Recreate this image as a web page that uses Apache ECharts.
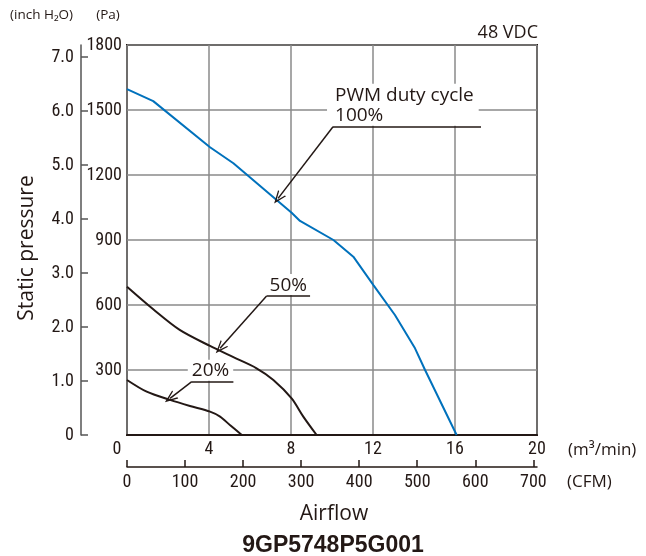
<!DOCTYPE html>
<html><head><meta charset="utf-8">
<script src="https://cdn.jsdelivr.net/npm/echarts@6/dist/echarts.min.js"></script>
<style>html,body{margin:0;padding:0;background:#fff}#c{width:646px;height:556px}</style>
</head><body><div id="c"></div>
<script>
// ---- data ----
const flowTicks = [0, 4, 8, 12, 16, 20];                 // m3/min
const paTicks = [0, 300, 600, 900, 1200, 1500, 1800];    // Pa
const inchTicks = [0, 1, 2, 3, 4, 5, 6, 7];              // inch H2O
const cfmTicks = [0, 100, 200, 300, 400, 500, 600, 700]; // CFM

const flow100 = [0, 1.28, 4.05, 5.19, 8.03, 8.44, 10.07, 11.04, 12.02, 13.07, 14.05, 14.54, 16.08];
const pres100 = [1596, 1541, 1328, 1254, 1026, 988, 900, 823, 692, 554, 400, 300, 0];
const flow50 = [0, 1.28, 2.57, 4.05, 5.19, 6.32, 7.14, 8.03, 8.6, 9.25];
const pres50 = [684, 580, 485, 411, 359, 308, 254, 169, 85, 0];
const flow20 = [0, 0.96, 2.1, 3.07, 4.05, 4.54, 5.02, 5.6];
const pres20 = [254, 200, 162, 134, 108, 85, 46, 0];

const PA_PER_INCH = 249.089;
const CFM_PER_M3MIN = 35.3147;

// ---- helpers ----
const pairs = (xs, ys) => xs.map((x, i) => [x, ys[i]]);
const INK = '#231815';
const GRIDC = '#8a8a8a';
const NUMFONT = '"Roboto Condensed", "Noto Sans Condensed", "Liberation Sans Narrow", "Arial Narrow", "DejaVu Sans Condensed", "Liberation Sans", sans-serif';
const NUMSIZE = 18;
const TXTFONT = '"Open Sans", "Liberation Sans", sans-serif';
const chevron = 'path://M5,0 L10,11 L8.6,11 L5,3.2 L1.4,11 L0,11 Z';

const chart = echarts.init(document.getElementById('c'), null, {renderer: 'canvas'});

const annotLabel = (txt, padding, offset) => ({
  show: true, position: [0, 0], align: 'left', verticalAlign: 'bottom',
  formatter: txt, color: INK, fontFamily: TXTFONT, fontSize: 19, lineHeight: 20,
  backgroundColor: '#fff', padding: padding, offset: offset
});

const option = {
  animation: false,
  backgroundColor: '#fff',
  grid: {left: 127, right: 109, top: 45, bottom: 121, show: true,
         borderColor: INK, borderWidth: 2, backgroundColor: '#fff'},
  xAxis: [
    {type: 'value', min: flowTicks[0], max: flowTicks[flowTicks.length - 1], interval: 4, position: 'bottom',
     axisLine: {show: true, onZero: false, lineStyle: {color: INK, width: 2}},
     axisTick: {show: false},
     axisLabel: {color: INK, fontFamily: NUMFONT, fontSize: NUMSIZE, margin: 5,
       formatter: v => v === 0 ? '{z|0}' : String(v),
       rich: {z: {padding: [0, 20, 0, 0], color: INK, fontFamily: NUMFONT, fontSize: NUMSIZE}}},
     splitLine: {show: true, lineStyle: {color: GRIDC, width: 1.5}}},
    {type: 'value', min: 0, max: flowTicks[flowTicks.length - 1] * CFM_PER_M3MIN, position: 'bottom', offset: 32,
     axisLine: {show: true, onZero: false, lineStyle: {color: INK, width: 1.5}},
     axisTick: {show: true, inside: true, length: 7, customValues: cfmTicks, lineStyle: {color: INK, width: 1.5}},
     axisLabel: {color: INK, fontFamily: NUMFONT, fontSize: NUMSIZE, margin: 6, customValues: cfmTicks},
     splitLine: {show: false}}
  ],
  yAxis: [
    {type: 'value', min: 0, max: paTicks[paTicks.length - 1], interval: 300, position: 'left',
     axisLine: {show: false, onZero: false}, axisTick: {show: false},
     axisLabel: {color: INK, fontFamily: NUMFONT, fontSize: NUMSIZE, margin: 5,
       formatter: v => v === 0 ? '' : String(v)},
     splitLine: {show: true, lineStyle: {color: GRIDC, width: 1.5}}},
    {type: 'value', min: 0, max: paTicks[paTicks.length - 1] / PA_PER_INCH, position: 'left', offset: 46,
     axisLine: {show: true, onZero: false, lineStyle: {color: '#555', width: 1.5}},
     axisTick: {show: true, inside: true, length: 7, customValues: inchTicks, lineStyle: {color: '#555', width: 1.5}},
     axisLabel: {color: INK, fontFamily: NUMFONT, fontSize: NUMSIZE, margin: 7, customValues: inchTicks,
       formatter: v => v === 0 ? '0' : v.toFixed(1)},
     splitLine: {show: false}}
  ],
  series: [
    {type: 'line', name: '20%', xAxisIndex: 0, yAxisIndex: 0, data: pairs(flow20, pres20),
     showSymbol: false, smooth: 0.3, lineStyle: {color: INK, width: 2}, z: 3},
    {type: 'line', name: '50%', xAxisIndex: 0, yAxisIndex: 0, data: pairs(flow50, pres50),
     showSymbol: false, smooth: 0.3, lineStyle: {color: INK, width: 2}, z: 3},
    {type: 'line', name: '100%', xAxisIndex: 0, yAxisIndex: 0, data: pairs(flow100, pres100),
     showSymbol: false, smooth: false, lineStyle: {color: '#0071bc', width: 2}, z: 4,
     markPoint: {
       symbol: 'rect', symbolSize: 0, silent: true, z: 5,
       data: [
         {coord: [10.05, 1423], label: annotLabel('PWM duty cycle\n100%', [2, 5, 0, 8], [-6, -1])},
         {coord: [6.81, 641], label: annotLabel('50%', [1, 4, 0, 3], [0, -1])},
         {coord: [3.16, 246], label: annotLabel('20%', [1, 4, 0, 4], [-4, -1])}
       ]
     },
     markLine: {
       silent: true, z: 6, symbol: ['none', 'none'], label: {show: false},
       lineStyle: {color: INK, width: 1.5, type: 'solid'},
       emphasis: {disabled: true},
       data: [
         [{coord: [10.05, 1423]}, {coord: [17.27, 1423]}],
         [{coord: [10.05, 1423]}, {coord: [7.37, 1092], symbol: chevron, symbolSize: [10, 13]}],
         [{coord: [6.81, 641]}, {coord: [8.93, 641]}],
         [{coord: [6.81, 641]}, {coord: [4.54, 400], symbol: chevron, symbolSize: [10, 13]}],
         [{coord: [3.16, 246]}, {coord: [5.19, 246]}],
         [{coord: [3.16, 246]}, {coord: [2.10, 169], symbol: chevron, symbolSize: [10, 13]}]
       ]
     }}
  ],
  graphic: [
    {type: 'text', x: 10, y: 15, style: {text: '(inch H₂O)', font: '13.5px ' + TXTFONT, fill: INK, align: 'left', verticalAlign: 'middle'}},
    {type: 'text', x: 108, y: 15, style: {text: '(Pa)', font: '13.5px ' + TXTFONT, fill: INK, align: 'center', verticalAlign: 'middle'}},
    {type: 'text', x: 538, y: 33, style: {text: '48 VDC', font: '18px ' + TXTFONT, fill: INK, align: 'right', verticalAlign: 'middle'}},
    {type: 'text', x: 27, y: 248, rotation: Math.PI / 2, style: {text: 'Static pressure', font: '21px ' + TXTFONT, fill: INK, align: 'center', verticalAlign: 'middle'}},
    {type: 'text', x: 568, y: 450, style: {text: '(m³/min)', font: '17px ' + TXTFONT, fill: INK, align: 'left', verticalAlign: 'middle'}},
    {type: 'text', x: 567, y: 482, style: {text: '(CFM)', font: '17px ' + TXTFONT, fill: INK, align: 'left', verticalAlign: 'middle'}},
    {type: 'text', x: 334, y: 514, style: {text: 'Airflow', font: '21px ' + TXTFONT, fill: INK, align: 'center', verticalAlign: 'middle'}},
    {type: 'text', x: 333, y: 546, style: {text: '9GP5748P5G001', font: 'bold 23px "Liberation Sans", sans-serif', fill: INK, align: 'center', verticalAlign: 'middle'}}
  ]
};
chart.setOption(option);
</script>
</body></html>
